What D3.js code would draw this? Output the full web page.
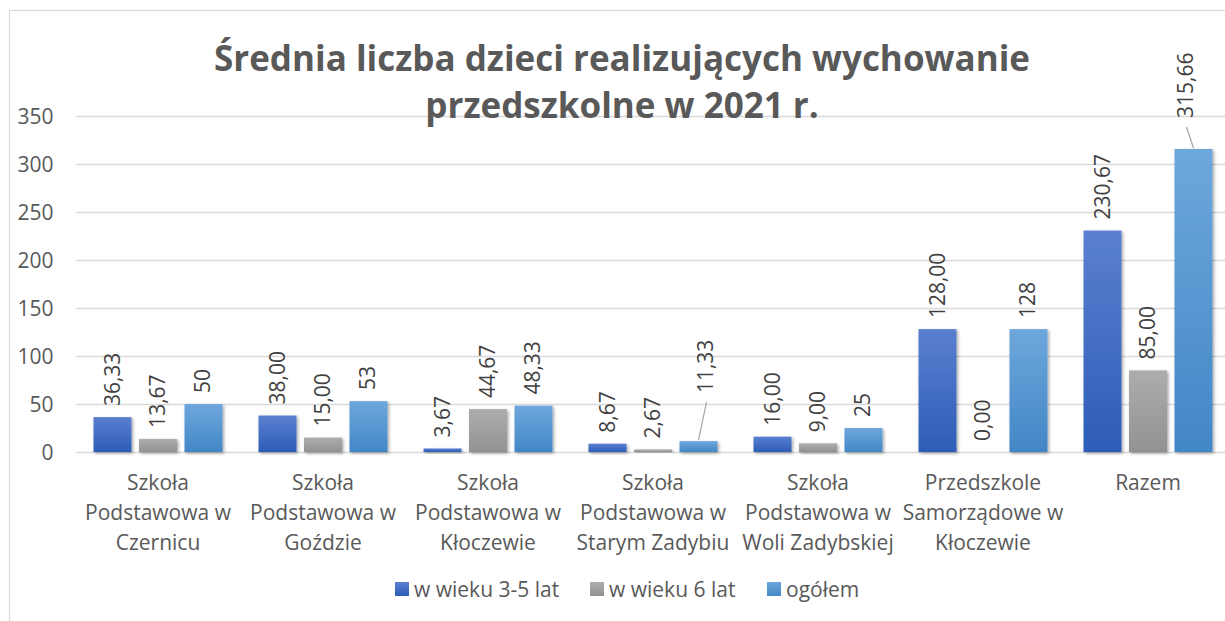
<!DOCTYPE html>
<html><head><meta charset="utf-8">
<script src="https://cdn.jsdelivr.net/npm/d3@7"></script>
<style>body{margin:0;background:#fff}svg{display:block}text{font-family:"Open Sans",sans-serif}</style>
</head><body><svg id="c" width="1225" height="621"></svg>
<script>
const categories = [["Szkoła","Podstawowa w","Czernicu"],["Szkoła","Podstawowa w","Goździe"],["Szkoła","Podstawowa w","Kłoczewie"],["Szkoła","Podstawowa w","Starym Zadybiu"],["Szkoła","Podstawowa w","Woli Zadybskiej"],["Przedszkole","Samorządowe w","Kłoczewie"],["Razem"]];
const seriesNames = ["w wieku 3-5 lat","w wieku 6 lat","ogółem"];
const age35 = [36.33,38.00,3.67,8.67,16.00,128.00,230.67];
const age6 = [13.67,15.00,44.67,2.67,9.00,0.00,85.00];
const total = [50,53,48.33,11.33,25,128,315.66];
const age35Labels = ["36,33","38,00","3,67","8,67","16,00","128,00","230,67"];
const age6Labels = ["13,67","15,00","44,67","2,67","9,00","0,00","85,00"];
const totalLabels = ["50","53","48,33","11,33","25","128","315,66"];
const yTicks = [0,50,100,150,200,250,300,350];
const titleLines = ["Średnia liczba dzieci realizujących wychowanie","przedszkolne w 2021 r."];

const series = [age35, age6, total];
const labels = [age35Labels, age6Labels, totalLabels];
const svg = d3.select("#c");
const defs = svg.append("defs");
const grads = [["#5b7fcf","#2d5db7"],["#adadad","#929292"],["#6ea7dc","#4287c6"]];
grads.forEach((g,i)=>{
  const lg = defs.append("linearGradient").attr("id","g"+i).attr("x1",0).attr("y1",0).attr("x2",0).attr("y2",1);
  lg.append("stop").attr("offset","0").attr("stop-color",g[0]);
  lg.append("stop").attr("offset","1").attr("stop-color",g[1]);
});
const f = defs.append("filter").attr("id","sh").attr("x","-20%").attr("y","-20%").attr("width","150%").attr("height","150%");
f.append("feDropShadow").attr("dx",1.5).attr("dy",1.5).attr("stdDeviation",1.5).attr("flood-color","#000").attr("flood-opacity",0.35);

svg.append("rect").attr("x",9.5).attr("y",10.5).attr("width",1240).attr("height",640).attr("fill","none").attr("stroke","#d9d9d9").attr("stroke-width",1.2);

const pLeft = 75.5, pRight = 1230.5, pTop = 116, pBottom = 452;
const x = d3.scaleBand().domain(d3.range(categories.length)).range([pLeft,pRight]).paddingInner(0).paddingOuter(0);
const y = d3.scaleLinear().domain([0,350]).range([pBottom,pTop]);
const xs = d3.scaleBand().domain(d3.range(3)).range([0,x.bandwidth()]).paddingInner(0.165).paddingOuter(0.396);

const yAxis = d3.axisLeft(y).tickValues(yTicks).tickSize(-(pRight-pLeft)).tickPadding(18);
const ga = svg.append("g").attr("transform",`translate(${pLeft},0)`).call(yAxis);
ga.select(".domain").remove();
ga.selectAll(".tick line").attr("stroke","#d9d9d9").attr("stroke-width",1.5);
ga.selectAll(".tick text").attr("fill","#595959").style("font-size","21px").attr("x",-22).attr("dy","0.35em");

series.forEach((s,si)=>{
  svg.append("g").selectAll("rect").data(s).join("rect")
    .attr("x",(d,i)=>x(i)+xs(si)).attr("width",xs.bandwidth())
    .attr("y",d=>y(d)).attr("height",d=>Math.max(0,y(0)-y(d)))
    .attr("fill",`url(#g${si})`).attr("filter","url(#sh)");
});
const moved = {"2-3":{dx:8,dy:-48},"2-6":{dx:-7,dy:-31}};
series.forEach((s,si)=>{
  s.forEach((d,i)=>{
    const cx = x(i)+xs(si)+xs.bandwidth()/2;
    let by = y(d)-11;
    let lx = cx;
    const m = moved[si+"-"+i];
    if(m){ lx = cx+m.dx; by = y(d)+m.dy;
      svg.append("line").attr("x1",cx).attr("y1",y(d)-1).attr("x2",lx).attr("y2",by+9)
        .attr("stroke","#a6a6a6").attr("stroke-width",1.2);
    }
    svg.append("text").attr("transform",`translate(${lx+7},${by}) rotate(-90)`)
      .attr("fill","#404040").style("font-size","21px").text(labels[si][i]);
  });
});

categories.forEach((lines,i)=>{
  const t = svg.append("text").attr("text-anchor","middle").attr("fill","#595959").style("font-size","21px");
  lines.forEach((l,j)=>t.append("tspan").attr("x",x(i)+x.bandwidth()/2).attr("y",490+j*30).text(l));
});

titleLines.forEach((l,j)=>{
  svg.append("text").attr("x",622).attr("y",71+j*47).attr("text-anchor","middle")
   .attr("fill","#595959").style("font-size","35px").style("font-weight","bold").text(l);
});

const legX = [395,590,767];
seriesNames.forEach((n,i)=>{
  svg.append("rect").attr("x",legX[i]).attr("y",582).attr("width",14).attr("height",14).attr("fill",`url(#g${i})`);
  svg.append("text").attr("x",legX[i]+19).attr("y",597).attr("fill","#595959").style("font-size","21px").text(n);
});
</script></body></html>
